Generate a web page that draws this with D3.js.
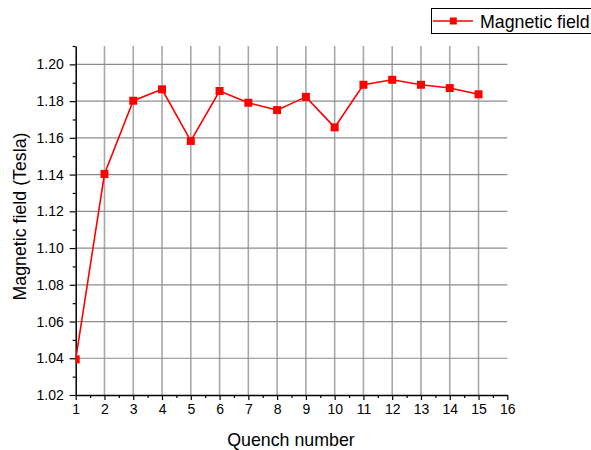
<!DOCTYPE html>
<html>
<head>
<meta charset="utf-8">
<script src="https://cdn.jsdelivr.net/npm/d3@7"></script>
<style>
  body { margin: 0; background: #fff; }
  svg { display: block; font-family: "Liberation Sans", Arial, sans-serif; }
</style>
</head>
<body>
<svg id="chart" width="591" height="450"></svg>
<script>
// Quench training data
const quench = [1, 2, 3, 4, 5, 6, 7, 8, 9, 10, 11, 12, 13, 14, 15];
const field = [1.0394, 1.1403, 1.1802, 1.1864, 1.1583, 1.1855, 1.1791, 1.1751, 1.1823, 1.1657, 1.1889, 1.1916, 1.1889, 1.1871, 1.1837];
const xTicks = [1, 2, 3, 4, 5, 6, 7, 8, 9, 10, 11, 12, 13, 14, 15, 16];
const yTicks = [1.02, 1.04, 1.06, 1.08, 1.10, 1.12, 1.14, 1.16, 1.18, 1.20];
const seriesName = "Magnetic field";

const svg = d3.select("#chart");
const pL = 75.7, pR = 507.3, pT = 46, pB = 395;

const x = d3.scaleLinear().domain([1, 16]).range([pL, pR]);
const y = d3.scaleLinear().domain([1.02, 1.21]).range([pB, pT]);

svg.append("defs").append("clipPath").attr("id", "plotclip")
  .append("rect").attr("x", pL).attr("y", pT).attr("width", pR - pL).attr("height", pB - pT);

// grid
const grid = svg.append("g");
grid.selectAll("line.v").data(xTicks.filter(d => d > 1 && d < 16)).join("line")
  .attr("x1", d => x(d)).attr("x2", d => x(d)).attr("y1", pT).attr("y2", pB)
  .attr("stroke", "#a8a8a8").attr("stroke-width", 1.6);
grid.selectAll("line.h").data(yTicks.filter(d => d > 1.02)).join("line")
  .attr("x1", pL).attr("x2", pR).attr("y1", d => y(d)).attr("y2", d => y(d))
  .attr("stroke", "#8c8c8c").attr("stroke-width", 1.2);

// axes
const xMinor = d3.range(1.5, 16, 1);
const yMinor = d3.range(1.03, 1.211, 0.02);

svg.append("g").attr("transform", `translate(0,${pB})`)
  .call(d3.axisBottom(x).tickValues(xTicks).tickFormat(d3.format("d")).tickSizeInner(5).tickSizeOuter(0).tickPadding(4));
svg.append("g").attr("transform", `translate(0,${pB})`)
  .call(d3.axisBottom(x).tickValues(xMinor).tickFormat("").tickSizeInner(3).tickSizeOuter(0))
  .call(g => g.select(".domain").remove());

svg.append("g").attr("transform", `translate(${pL},0)`)
  .call(d3.axisLeft(y).tickValues(yTicks).tickFormat(d3.format(".2f")).tickSizeInner(6).tickSizeOuter(0).tickPadding(6));
svg.append("g").attr("transform", `translate(${pL},0)`)
  .call(d3.axisLeft(y).tickValues(yMinor).tickFormat("").tickSizeInner(3).tickSizeOuter(0))
  .call(g => g.select(".domain").remove());

svg.selectAll(".domain").attr("stroke", "#000").attr("stroke-width", 1.5);
svg.selectAll(".tick line").attr("stroke", "#000").attr("stroke-width", 1.2);
svg.selectAll(".tick text").attr("font-size", 14).attr("fill", "#000")
  .attr("font-family", "'Liberation Sans', Arial, sans-serif");

// series
const plot = svg.append("g").attr("clip-path", "url(#plotclip)");
const pts = quench.map((q, i) => [q, field[i]]);
plot.append("path").datum(pts)
  .attr("fill", "none").attr("stroke", "#ff0000").attr("stroke-width", 1.6)
  .attr("d", d3.line().x(d => x(d[0])).y(d => y(d[1])));
const ms = 8;
plot.selectAll("rect.m").data(pts).join("rect")
  .attr("x", d => x(d[0]) - ms / 2).attr("y", d => y(d[1]) - ms / 2)
  .attr("width", ms).attr("height", ms).attr("fill", "#ff0000");

// axis titles
svg.append("text").attr("x", 291).attr("y", 446)
  .attr("text-anchor", "middle").attr("font-size", 17.8).text("Quench number");
svg.append("text").attr("transform", `translate(25.5,216.5) rotate(-90)`)
  .attr("text-anchor", "middle").attr("font-size", 17.8).text("Magnetic field (Tesla)");

// legend
const lg = svg.append("g");
lg.append("rect").attr("x", 431.5).attr("y", 8.5).attr("width", 170).attr("height", 25)
  .attr("fill", "#fff").attr("stroke", "#000").attr("stroke-width", 1);
lg.append("line").attr("x1", 433).attr("x2", 473).attr("y1", 21).attr("y2", 21)
  .attr("stroke", "#ff0000").attr("stroke-width", 1.6);
lg.append("rect").attr("x", 453.3 - 3.5).attr("y", 21 - 3.5).attr("width", 7).attr("height", 7).attr("fill", "#ff0000");
lg.append("text").attr("x", 480).attr("y", 27.5).attr("font-size", 17.8).text(seriesName);
</script>
</body>
</html>
